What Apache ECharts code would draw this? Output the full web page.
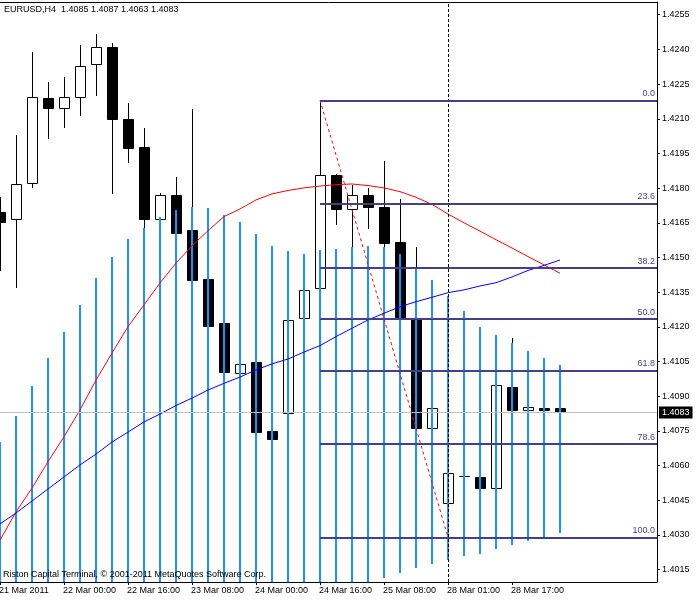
<!DOCTYPE html>
<html><head><meta charset="utf-8">
<script src="https://cdn.jsdelivr.net/npm/echarts@6/dist/echarts.min.js"></script>
<style>html,body{margin:0;padding:0;background:#fff}#c{width:697px;height:600px}</style>
</head><body><div id="c"></div>
<script>
// ---- data ----
const timeTickIndex = [0, 4, 8, 12, 16, 20, 24, 28, 32];
const timeTickLabels = ["21 Mar 2011", "22 Mar 00:00", "22 Mar 16:00", "23 Mar 08:00", "24 Mar 00:00", "24 Mar 16:00", "25 Mar 08:00", "28 Mar 01:00", "28 Mar 17:00"];
const priceTicks = [1.4015, 1.4030, 1.4045, 1.4060, 1.4075, 1.4090, 1.4105, 1.4120, 1.4135, 1.4150, 1.4165, 1.4180, 1.4195, 1.4210, 1.4225, 1.4240, 1.4255];

const opens  = [1.41697, 1.41665, 1.41824, 1.42189, 1.42145, 1.42195, 1.42337, 1.42409, 1.42100, 1.41978, 1.41665, 1.41770, 1.41619, 1.41407, 1.41217, 1.40999, 1.41047, 1.40750, 1.40826, 1.41237, 1.41367, 1.41857, 1.41709, 1.41770, 1.41717, 1.41567, 1.41237, 1.40764, 1.40437, 1.40557, 1.40552, 1.40505, 1.40940, 1.40841, 1.40849, 1.40850];
const highs  = [1.41763, 1.42030, 1.42390, 1.42260, 1.42279, 1.42419, 1.42467, 1.42429, 1.42167, 1.42061, 1.41778, 1.41849, 1.42141, 1.41420, 1.41230, 1.41048, 1.41057, 1.40754, 1.41239, 1.41368, 1.42180, 1.41861, 1.41814, 1.41799, 1.41917, 1.41753, 1.41547, 1.40862, 1.40581, 1.40581, 1.40563, 1.40971, 1.41151, 1.40862, 1.40858, 1.40870];
const lows   = [1.41446, 1.41374, 1.41806, 1.42016, 1.42066, 1.42116, 1.42203, 1.41778, 1.41914, 1.41626, 1.41662, 1.41602, 1.41381, 1.41187, 1.40992, 1.40992, 1.40737, 1.40711, 1.40815, 1.41230, 1.41359, 1.41645, 1.41550, 1.41626, 1.41550, 1.41230, 1.40754, 1.40754, 1.40290, 1.40538, 1.40494, 1.40494, 1.40832, 1.40832, 1.40832, 1.40630];
const closes = [1.41655, 1.41818, 1.42195, 1.42145, 1.42195, 1.42327, 1.42409, 1.42098, 1.41975, 1.41665, 1.41770, 1.41607, 1.41403, 1.41205, 1.41006, 1.41038, 1.40747, 1.40717, 1.41229, 1.41358, 1.41857, 1.41709, 1.41770, 1.41717, 1.41564, 1.41244, 1.40764, 1.40848, 1.40567, 1.40557, 1.40505, 1.40949, 1.40841, 1.40852, 1.40839, 1.40830];

const bandTop    = [1.40704, 1.40815, 1.40944, 1.41065, 1.41178, 1.41295, 1.41411, 1.41502, 1.41580, 1.41628, 1.41677, 1.41705, 1.41720, 1.41713, 1.41684, 1.41654, 1.41602, 1.41550, 1.41528, 1.41515, 1.41533, 1.41537, 1.41547, 1.41550, 1.41547, 1.41515, 1.41450, 1.41403, 1.41335, 1.41269, 1.41201, 1.41165, 1.41129, 1.41096, 1.41067, 1.41035];
const bandBottom = [1.3990, 1.3990, 1.3990, 1.3990, 1.3990, 1.3990, 1.3990, 1.3990, 1.3990, 1.3990, 1.3990, 1.3990, 1.3990, 1.3995, 1.3995, 1.4000, 1.4000, 1.4002, 1.4004, 1.4005, 1.4007, 1.4008, 1.4009, 1.40098, 1.40113, 1.40137, 1.40159, 1.40175, 1.40192, 1.40209, 1.40218, 1.40241, 1.40257, 1.40275, 1.40293, 1.40310];

const maRed  = [1.40278, 1.40400, 1.40503, 1.40617, 1.40725, 1.40841, 1.40970, 1.41087, 1.41201, 1.41295, 1.41390, 1.41476, 1.41550, 1.41616, 1.41677, 1.41710, 1.41749, 1.41775, 1.41790, 1.41801, 1.41809, 1.41815, 1.41818, 1.41811, 1.41801, 1.41785, 1.41760, 1.41730, 1.41688, 1.41650, 1.41614, 1.41577, 1.41541, 1.41504, 1.41468, 1.41432];
const maBlue = [1.40348, 1.40395, 1.40447, 1.40499, 1.40551, 1.40603, 1.40650, 1.40702, 1.40745, 1.40789, 1.40823, 1.40860, 1.40892, 1.40927, 1.40956, 1.40983, 1.41014, 1.41040, 1.41061, 1.41091, 1.41119, 1.41158, 1.41194, 1.41230, 1.41259, 1.41287, 1.41309, 1.41328, 1.41348, 1.41360, 1.41377, 1.41391, 1.41416, 1.41444, 1.41466, 1.41489];

const fibLevels = ["0.0", "23.6", "38.2", "50.0", "61.8", "78.6", "100.0"];
const fibPrices = [1.42180, 1.41734, 1.41456, 1.41235, 1.41012, 1.40693, 1.40290];
const fibAnchorBar = 20;
const trendFrom = [20, 1.42180];
const trendTo = [28, 1.40290];
const cursorBar = 28;
const lastPrice = 1.4083;
const headerText = "EURUSD,H4  1.4085 1.4087 1.4063 1.4083";
const footerText = "Riston Capital Terminal, \u00A9 2001-2011 MetaQuotes Software Corp.";

// ---- chart ----
const FONT = "'Liberation Sans', Arial, sans-serif";
const X_MIN = 0, X_MAX = 657 / 16;
const Y_MIN = 1.400968, Y_MAX = 1.426049;
const FIB_COLOR = '#483D8B';

const chart = echarts.init(document.getElementById('c'), null, {renderer: 'canvas'});

const candleData = opens.map((o, i) => [i, o, highs[i], lows[i], closes[i]]);
const bandData = bandTop.map((t, i) => [i, t, bandBottom[i]]);

const option = {
  animation: false,
  backgroundColor: '#fff',
  grid: {left: 0, right: 40, top: 2, bottom: 18, containLabel: false, outerBoundsMode: 'none'},
  xAxis: [{
    type: 'value', min: X_MIN, max: X_MAX, position: 'bottom',
    axisLine: {show: true, onZero: false, lineStyle: {color: '#000', width: 1}},
    axisTick: {show: true, customValues: timeTickIndex, length: 3, lineStyle: {color: '#000'}},
    axisLabel: {
      show: true, customValues: timeTickIndex, showMinLabel: true, showMaxLabel: true, hideOverlap: false,
      formatter: v => timeTickLabels[timeTickIndex.indexOf(Math.round(v))] || '',
      align: 'left', fontSize: 9, color: '#000', margin: 4, fontFamily: FONT, padding: [0, 0, 0, -1]
    },
    splitLine: {show: false}
  }, {
    type: 'value', min: X_MIN, max: X_MAX, position: 'top',
    axisLine: {show: true, onZero: false, lineStyle: {color: '#000', width: 1}},
    axisTick: {show: false}, axisLabel: {show: false}, splitLine: {show: false}
  }],
  yAxis: {
    type: 'value', min: Y_MIN, max: Y_MAX, position: 'right', scale: true,
    axisLine: {show: true, onZero: false, lineStyle: {color: '#000', width: 1}},
    axisTick: {show: true, customValues: priceTicks, length: 3, lineStyle: {color: '#000'}},
    axisLabel: {
      show: true, customValues: priceTicks, formatter: v => v.toFixed(4),
      fontSize: 9, color: '#000', margin: 5, fontFamily: FONT
    },
    splitLine: {show: false}
  },
  graphic: [
    {type: 'text', left: 4, top: 5, z: 100, style: {text: headerText, font: '9px ' + FONT, fill: '#000'}},
    {type: 'text', left: 3, top: 570, z: 100, style: {text: footerText, font: '9px ' + FONT, fill: '#000'}}
  ],
  series: [
    {
      type: 'line', data: [], z: 1, silent: true,
      markLine: {
        symbol: ['none', 'none'], silent: true, animation: false,
        data: [
          [{coord: [X_MIN, lastPrice], lineStyle: {color: '#c0c0c0', width: 1, type: 'solid'},
            label: {show: true, position: 'end', formatter: lastPrice.toFixed(4), backgroundColor: '#000',
                    color: '#fff', padding: [2, 3, 1, 3], distance: 2, fontSize: 9, fontFamily: FONT}},
           {coord: [X_MAX, lastPrice]}],
          [{coord: [cursorBar, Y_MIN], lineStyle: {color: '#000', width: 1, type: [3, 2]}, label: {show: false}},
           {coord: [cursorBar, Y_MAX]}]
        ]
      }
    },
    {
      type: 'custom', name: 'candles', z: 2, clip: true,
      data: candleData,
      encode: {x: 0, y: [1, 2, 3, 4]},
      renderItem: function (params, api) {
        const i = api.value(0);
        const o = api.value(1), h = api.value(2), l = api.value(3), c = api.value(4);
        const po = api.coord([i, o]), ph = api.coord([i, h]), pl = api.coord([i, l]), pc = api.coord([i, c]);
        const cx = Math.round(po[0]);
        const yTop = Math.round(Math.min(po[1], pc[1])), yBot = Math.round(Math.max(po[1], pc[1]));
        const bull = c >= o;
        return {
          type: 'group',
          children: [
            {type: 'line', shape: {x1: cx + 0.5, y1: Math.round(ph[1]), x2: cx + 0.5, y2: Math.round(pl[1]) + 1},
             style: {stroke: '#000', lineWidth: 1}},
            {type: 'rect', shape: {x: cx - 4.5, y: yTop + 0.5, width: 10, height: Math.max(0, yBot - yTop)},
             style: {fill: bull ? '#fff' : '#000', stroke: '#000', lineWidth: 1}}
          ]
        };
      }
    },
    {
      type: 'line', data: [], z: 2.5, silent: true,
      markLine: {
        symbol: ['none', 'none'], silent: true, animation: false,
        lineStyle: {color: '#ff0000', width: 1, type: [3, 3]}, label: {show: false},
        data: [[{coord: trendFrom}, {coord: trendTo}]]
      }
    },
    {
      type: 'custom', name: 'band', z: 3, clip: true,
      data: bandData,
      encode: {x: 0, y: [1, 2]},
      renderItem: function (params, api) {
        const i = api.value(0);
        const p1 = api.coord([i, api.value(1)]), p2 = api.coord([i, api.value(2)]);
        const cx = Math.round(p1[0]);
        return {type: 'line', shape: {x1: cx, y1: Math.round(p1[1]), x2: cx, y2: Math.round(p2[1])},
                style: {stroke: '#1E90FF', lineWidth: 2}};
      }
    },
    {
      type: 'line', name: 'maRed', z: 4, showSymbol: false, symbol: 'none', clip: true,
      data: maRed.map((v, i) => [i, v]),
      lineStyle: {color: '#ff0000', width: 1}
    },
    {
      type: 'line', name: 'maBlue', z: 4, showSymbol: false, symbol: 'none', clip: true,
      data: maBlue.map((v, i) => [i, v]),
      lineStyle: {color: '#0000ff', width: 1}
    },
    {
      type: 'line', data: [], z: 5, silent: true,
      markLine: {
        symbol: ['none', 'none'], silent: true, animation: false,
        lineStyle: {color: FIB_COLOR, width: 2, type: 'solid'},
        label: {show: true, position: 'insideEndTop', distance: [2, 2], color: FIB_COLOR, fontSize: 9, fontFamily: FONT,
                formatter: p => fibLevels[p.dataIndex]},
        data: fibPrices.map(p => [{coord: [fibAnchorBar, p]}, {coord: [X_MAX, p]}])
      }
    }
  ]
};
chart.setOption(option);
</script>
</body></html>
